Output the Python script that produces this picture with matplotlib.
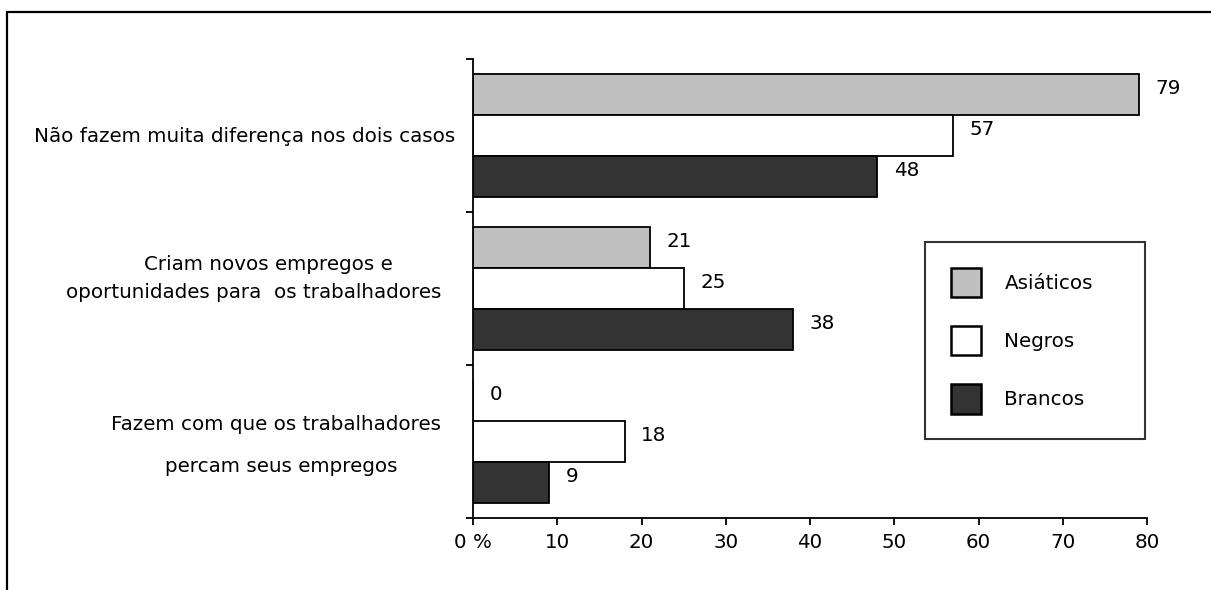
import matplotlib
matplotlib.use("Agg")
import matplotlib.pyplot as plt
from matplotlib.patches import Rectangle
import numpy as np

# data
categories = ["Não fazem muita diferença nos dois casos",
              "Criam novos empregos e\noportunidades para  os trabalhadores",
              "Fazem com que os trabalhadores\npercam seus empregos"]
series_names = ["Asiáticos", "Negros", "Brancos"]
asiaticos = [79, 21, 0]
negros = [57, 25, 18]
brancos = [48, 38, 9]
xticks = [0, 10, 20, 30, 40, 50, 60, 70, 80]
xtick_labels = ["0 %", "10", "20", "30", "40", "50", "60", "70", "80"]

colors = ["#c0c0c0", "#ffffff", "#333333"]
W, H = 1211, 590
FS = 14.3

plt.rcParams['font.family'] = ['DejaVu Sans']
fig = plt.figure(figsize=(W / 100, H / 100), dpi=100)
ax = fig.add_axes([473 / W, 1 - 518 / H, (1147 - 473) / W, (518 - 59) / H])

n = len(categories)
centers = np.arange(n)[::-1] + 0.5  # first category on top
bh = 0.8 / 3
offsets = [bh, 0, -bh]

for vals, off, col, name in zip([asiaticos, negros, brancos], offsets, colors, series_names):
    bars = ax.barh(centers + off, vals, height=bh, color=col, edgecolor="black",
                   linewidth=1.3, label=name)
    for b, v in zip(bars, vals):
        ax.annotate(str(v), (b.get_width(), b.get_y() + b.get_height() / 2),
                    xytext=(12, 4.5), textcoords="offset points",
                    ha="left", va="center", fontsize=FS)

ax.set_xlim(0, 80)
ax.set_ylim(0, n)
ax.set_xticks(xticks)
ax.set_xticklabels(xtick_labels, fontsize=FS)
ax.set_yticks(np.arange(n + 1))
ax.set_yticklabels([])
ax.tick_params(axis="both", direction="out", length=5, width=1.3, pad=6)
for s in ["top", "right"]:
    ax.spines[s].set_visible(False)
for s in ["left", "bottom"]:
    ax.spines[s].set_linewidth(1.3)

# category labels, multi-line, placed left of the axis
label_pos = [
    [(245, 136)],
    [(268, 264), (254, 292)],
    [(276, 425), (281, 466)],
]
for cat, pos in zip(categories, label_pos):
    for line, (px, py) in zip(cat.split("\n"), pos):
        fig.text(px / W, 1 - py / H, line, ha="center", va="center", fontsize=FS)

leg = ax.legend(loc="upper left", bbox_to_anchor=(925 / W, 1 - 438 / H, 220 / W, 196 / H),
                bbox_transform=fig.transFigure, mode="expand",
                fontsize=FS, frameon=True, fancybox=False, edgecolor="black",
                handlelength=1.5, handleheight=1.9, handletextpad=1.2,
                labelspacing=1.45, borderpad=1.3, borderaxespad=0)
leg.get_frame().set_linewidth(1.5)
for p in leg.get_patches():
    p.set_linewidth(1.8)

# outer frame
fig.patches.append(Rectangle((7 / W, -0.2), 1.2, 1 - 12 / H + 0.2,
                             transform=fig.transFigure, fill=False,
                             edgecolor="black", linewidth=1.6))

fig.savefig("out.png", dpi=100)
